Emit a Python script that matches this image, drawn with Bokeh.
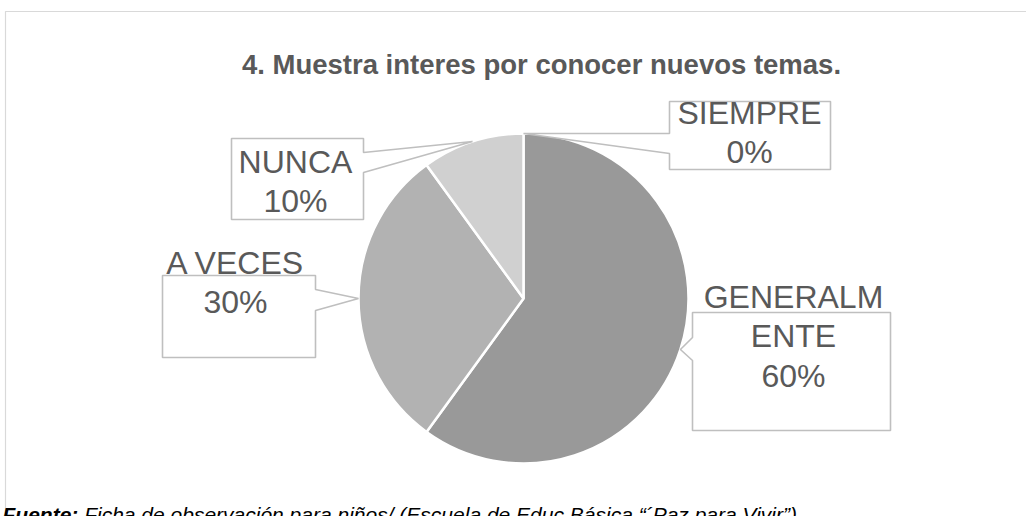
import math
from bokeh.plotting import figure
from bokeh.models import ColumnDataSource, Range1d
from bokeh.core.properties import value
from bokeh.embed import file_html
from bokeh.resources import INLINE

# ---------------- data ----------------
title_text = "4. Muestra interes por conocer nuevos temas."
categories = ["SIEMPRE", "GENERALMENTE", "A VECES", "NUNCA"]
wrapped_names = ["SIEMPRE", "GENERALM\nENTE", "A VECES", "NUNCA"]
values = [0, 60, 30, 10]
colors = ["#7f7f7f", "#999999", "#b2b2b2", "#d0d0d0"]
footer_bold = "Fuente:"
footer_rest = "Ficha de observación para niños/ (Escuela de Educ Básica “´Paz para Vivir”)"

# ---------------- layout (page pixels) ----------------
W, H = 1026, 516
def X(px):
    return px
def Y(py):
    return H - py

cx, cy, R = 523, 298, 165
# callout boxes: x0, x1, y0 (top), y1 (bottom), pointer side, pointer attach y's, text centre
boxes = [
    dict(x0=669, x1=830, y0=101, y1=169, side="left", a=133, b=153, tx=749, ty=132),
    dict(x0=692, x1=890, y0=312, y1=430, side="left", a=337, b=360, tx=793, ty=336),
    dict(x0=162, x1=315, y0=275, y1=357, side="right", a=289, b=310, tx=235, ty=282),
    dict(x0=231, x1=363, y0=138, y1=219, side="right", a=152, b=172, tx=295, ty=181),
]

p = figure(width=W, height=H, output_backend="svg", toolbar_location=None,
           x_range=Range1d(0, W), y_range=Range1d(0, H),
           x_axis_type=None, y_axis_type=None, min_border=0,
           background_fill_color="white", border_fill_color="white")
p.outline_line_color = None
p.grid.visible = False

# outer chart border
p.line(x=[X(5), X(5), X(1100)], y=[Y(600), Y(11), Y(11)], line_color="#d9d9d9", line_width=1.2)

# pie slices, clockwise from top
total = sum(values)
starts, ends, mids = [], [], []
cum = 0.0
for v in values:
    f0 = cum / total
    cum += v
    f1 = cum / total
    starts.append(math.pi / 2 - f1 * 2 * math.pi)
    ends.append(math.pi / 2 - f0 * 2 * math.pi)
    mids.append(math.pi / 2 - (f0 + f1) / 2 * 2 * math.pi)

src = ColumnDataSource(dict(start=starts, end=ends, color=colors, cat=categories))
p.wedge(x=X(cx), y=Y(cy), radius=R, start_angle="start", end_angle="end",
        fill_color="color", line_color="white", line_width=2.5, source=src)

# callouts
xs, ys = [], []
for b, m in zip(boxes, mids):
    tipx = X(cx) + R * math.cos(m)
    tipy = Y(cy) + R * math.sin(m)
    x0, x1, y0, y1 = X(b["x0"]), X(b["x1"]), Y(b["y0"]), Y(b["y1"])
    ya, yb = Y(b["a"]), Y(b["b"])
    if b["side"] == "left":
        px = [x0, x1, x1, x0, x0, tipx, x0]
        py = [y0, y0, y1, y1, yb, tipy, ya]
    else:
        px = [x0, x1, x1, tipx, x1, x1, x0]
        py = [y0, y0, ya, tipy, yb, y1, y1]
    xs.append(px)
    ys.append(py)
p.patches(xs=xs, ys=ys, fill_color="white", line_color="#bfbfbf", line_width=1.6)

labels = [f"{n}\n{v}%" for n, v in zip(wrapped_names, values)]
p.text(x=[X(b["tx"]) for b in boxes], y=[Y(b["ty"]) for b in boxes], text=labels,
       text_align="center", text_baseline="middle", text_font=value("Liberation Sans"),
       text_font_size="32px", text_color="#595959", text_line_height=1.09)

# title
p.text(x=[X(541)], y=[Y(64)], text=[title_text], text_align="center",
       text_baseline="alphabetic", text_font=value("Liberation Sans"),
       text_font_style="bold", text_font_size="27.5px", text_color="#595959")

# footer
fs = 21
p.text(x=[X(2)], y=[Y(514)], text=[footer_bold], text_align="left", text_baseline="alphabetic",
       text_font=value("Liberation Sans"), text_font_style="bold italic",
       text_font_size=f"{fs}px", text_color="black")
p.text(x=[X(2) + 3.611 * fs + 0.278 * fs], y=[Y(514)], text=[footer_rest], text_align="left",
       text_baseline="alphabetic", text_font=value("Liberation Sans"), text_font_style="italic",
       text_font_size=f"{fs}px", text_color="black")

open("out.html", "w").write(file_html(p, INLINE))
